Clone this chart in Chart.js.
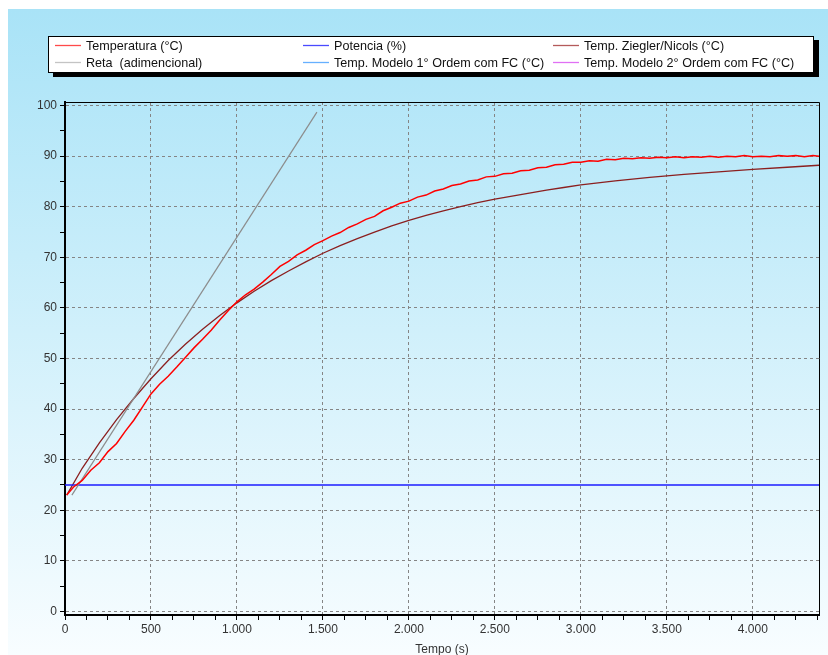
<!DOCTYPE html>
<html>
<head>
<meta charset="utf-8">
<script src="https://cdn.jsdelivr.net/npm/chart.js"></script>
<style>
  html, body { margin: 0; padding: 0; background: #fff; }
  #panel {
    position: absolute; left: 8px; top: 9px; width: 820px; height: 646px;
    background: linear-gradient(#a9e3f7, #f8fdff);
  }
  canvas { display: block; }
</style>
</head>
<body>
<div id="panel"><canvas id="chart" width="820" height="646"></canvas></div>
<script>
  // tempo (s) e temperatura medida (°C)
  var tempoTemp = [10, 50, 100, 150, 200, 250, 300, 350, 400, 450, 500,
    550, 600, 650, 700, 750, 800, 850, 900, 950, 1000,
    1050, 1100, 1150, 1200, 1250, 1300, 1350, 1400, 1450, 1500,
    1550, 1600, 1650, 1700, 1750, 1800, 1850, 1900, 1950, 2000,
    2050, 2100, 2150, 2200, 2250, 2300, 2350, 2400, 2450, 2500,
    2550, 2600, 2650, 2700, 2750, 2800, 2850, 2900, 2950, 3000,
    3050, 3100, 3150, 3200, 3250, 3300, 3350, 3400, 3450, 3500,
    3550, 3600, 3650, 3700, 3750, 3800, 3850, 3900, 3950, 4000,
    4050, 4100, 4150, 4200, 4250, 4300, 4350, 4385];
  var temperatura = [23.0, 24.6, 25.9, 27.9, 29.4, 31.6, 33.2, 35.6, 37.8, 40.4, 43.0,
    44.9, 46.5, 48.3, 50.2, 52.1, 53.8, 55.6, 57.6, 59.5, 61.2,
    62.6, 63.7, 65.1, 66.6, 68.2, 69.2, 70.5, 71.4, 72.5, 73.3,
    74.2, 74.9, 75.9, 76.6, 77.5, 78.1, 79.2, 79.9, 80.7, 81.1,
    81.9, 82.3, 83.1, 83.5, 84.2, 84.5, 85.1, 85.3, 85.9, 86.0,
    86.5, 86.6, 87.1, 87.2, 87.7, 87.8, 88.3, 88.4, 88.8, 88.8,
    89.1, 89.0, 89.4, 89.3, 89.6, 89.5, 89.7, 89.6, 89.8, 89.7,
    89.9, 89.7, 89.9, 89.8, 90.0, 89.8, 90.0, 89.9, 90.1, 89.9,
    90.0, 89.9, 90.1, 90.0, 90.1, 89.9, 90.1, 90.0];

  var tempoZN = [10, 100, 200, 300, 400, 500, 600, 700, 800, 900, 1000,
    1100, 1200, 1300, 1400, 1500, 1600, 1700, 1800, 1900, 2000,
    2100, 2200, 2300, 2400, 2500, 2600, 2700, 2800, 2900, 3000,
    3200, 3400, 3600, 3800, 4000, 4200, 4385];
  var zieglerNicols = [23.0, 28.3, 33.3, 37.9, 42.1, 46.0, 49.6, 52.8, 55.8, 58.5, 61.0,
    63.3, 65.4, 67.3, 69.1, 70.8, 72.3, 73.7, 75.0, 76.2, 77.3,
    78.3, 79.2, 80.0, 80.8, 81.5, 82.1, 82.7, 83.3, 83.8, 84.3,
    85.1, 85.8, 86.4, 86.9, 87.4, 87.8, 88.2];

  var tempoReta = [40, 1465];
  var reta = [23.0, 98.7];

  var tempoPot = [0, 4385];
  var potencia = [25, 25];

  var xMin = 0, xMax = 4385, xPasso = 125, xRotulo = 500;
  var yMin = -0.7, yMax = 100.7, yPasso = 5, yRotulo = 10;

  var labels = [
    'Temperatura (°C)',
    'Reta  (adimencional)',
    'Potencia (%)',
    'Temp. Modelo 1° Ordem com FC (°C)',
    'Temp. Ziegler/Nicols (°C)',
    'Temp. Modelo 2° Ordem com FC (°C)'
  ];
  var cores = ['#ff0000', '#8c8c8c', '#1c1cff', '#5aaaff', '#8b1f1f', '#e060f0'];
  var coresLegenda = ['#ff4a4a', '#c4c4c4', '#4a4aff', '#66b0ff', '#b45a5a', '#e070f4'];

  var fonte = { family: '"Liberation Sans", Arial, sans-serif', size: 12 };

  function pts(xs, ys) {
    return xs.map(function (x, i) { return { x: x, y: ys[i] }; });
  }

  function formatMil(v) {
    if (v >= 1000) {
      return Math.floor(v / 1000) + '.' + String(v % 1000).padStart(3, '0');
    }
    return String(v);
  }

  // ticks de 125 em 125 (x) e de 5 em 5 (y), rotulo so nos maiores
  function marcas(passo, min, max) {
    return function (scale) {
      var t = [];
      for (var v = Math.ceil(min / passo) * passo; v <= max; v += passo) {
        t.push({ value: v });
      }
      scale.ticks = t;
    };
  }

  var legendBox = {
    id: 'legendBox',
    afterDraw: function (chart) {
      var ctx = chart.ctx;
      var colX = [47, 295, 545];
      var rowY = [36.5, 53.5];
      ctx.save();
      ctx.fillStyle = '#000';
      ctx.fillRect(45, 31, 766, 37);
      ctx.fillStyle = '#fff';
      ctx.fillRect(40, 27, 766, 37);
      ctx.strokeStyle = '#000';
      ctx.lineWidth = 1;
      ctx.strokeRect(40.5, 27.5, 765, 36);
      ctx.font = '12.6px "Liberation Sans", Arial, sans-serif';
      ctx.textBaseline = 'middle';
      chart.data.datasets.forEach(function (ds, i) {
        var x = colX[Math.floor(i / 2)];
        var y = rowY[i % 2];
        ctx.strokeStyle = coresLegenda[i];
        ctx.lineWidth = 1.3;
        ctx.beginPath();
        ctx.moveTo(x, y);
        ctx.lineTo(x + 26, y);
        ctx.stroke();
        ctx.fillStyle = '#111';
        ctx.fillText(ds.label, x + 31, y + 1);
      });
      ctx.restore();
    }
  };

  var frame = {
    id: 'frame',
    afterDatasetsDraw: function (chart) {
      var a = chart.chartArea;
      var ctx = chart.ctx;
      ctx.save();
      ctx.strokeStyle = '#000';
      ctx.lineWidth = 1;
      ctx.beginPath();
      ctx.moveTo(a.left, a.top + 0.5);
      ctx.lineTo(a.right + 0.5, a.top + 0.5);
      ctx.lineTo(a.right + 0.5, a.bottom);
      ctx.stroke();
      ctx.restore();
    }
  };

  var series = [
    pts(tempoTemp, temperatura),
    pts(tempoReta, reta),
    pts(tempoPot, potencia),
    [],
    pts(tempoZN, zieglerNicols),
    []
  ];
  var larguras = [1.5, 1.2, 1.5, 1, 1.3, 1];

  var datasets = labels.map(function (l, i) {
    return {
      label: l,
      data: series[i],
      borderColor: cores[i],
      borderWidth: larguras[i],
      pointRadius: 0,
      fill: false,
      tension: 0
    };
  });

  var ctx = document.getElementById('chart').getContext('2d');
  var lineChart = new Chart(ctx, {
    type: 'line',
    data: { datasets: datasets },
    plugins: [legendBox, frame],
    options: {
      responsive: false,
      animation: false,
      devicePixelRatio: 1,
      layout: { padding: { top: 93, right: 9, left: 0, bottom: 0 } },
      plugins: { legend: { display: false }, tooltip: { enabled: false } },
      scales: {
        x: {
          type: 'linear',
          min: xMin,
          max: xMax,
          afterFit: function (s) { s.height = 40; },
          afterBuildTicks: marcas(xPasso, xMin, xMax),
          ticks: {
            autoSkip: false,
            maxRotation: 0,
            padding: 2,
            color: '#333',
            font: fonte,
            callback: function (v) { return Math.round(v) % xRotulo === 0 ? formatMil(Math.round(v)) : ''; }
          },
          grid: {
            color: function (c) { return c.tick && Math.round(c.tick.value) % xRotulo === 0 ? '#858585' : 'rgba(0,0,0,0)'; },
            tickColor: '#000',
            tickLength: 5,
            lineWidth: 1
          },
          border: { color: '#000', width: 2, dash: [3, 3] },
          title: {
            display: true,
            text: 'Tempo (s)',
            color: '#333',
            font: { family: fonte.family, size: 12, lineHeight: 1 },
            padding: { top: 0, bottom: -1 }
          }
        },
        y: {
          min: yMin,
          max: yMax,
          afterFit: function (s) { s.width = 57; },
          afterBuildTicks: marcas(yPasso, yMin, yMax),
          ticks: {
            autoSkip: false,
            padding: 3,
            color: '#333',
            font: fonte,
            callback: function (v) { return Math.round(v) % yRotulo === 0 ? String(Math.round(v)) : ''; }
          },
          grid: {
            color: function (c) { return c.tick && Math.round(c.tick.value) % yRotulo === 0 ? '#858585' : 'rgba(0,0,0,0)'; },
            tickColor: '#000',
            tickLength: 5,
            lineWidth: 1
          },
          border: { color: '#000', width: 2, dash: [3, 3] }
        }
      }
    }
  });
</script>
</body>
</html>
